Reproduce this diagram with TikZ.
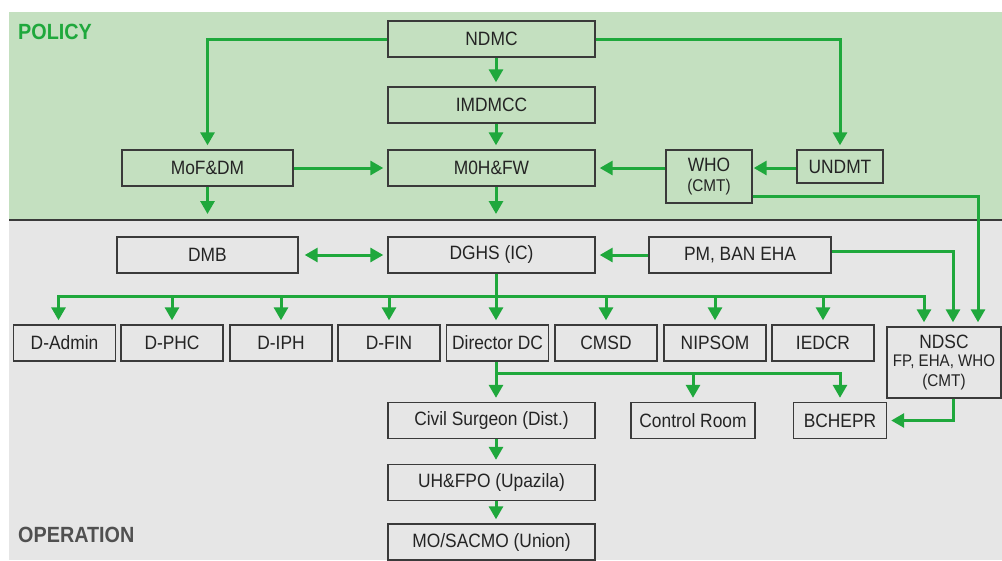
\documentclass[tikz,border=0pt]{standalone}
\usepackage{fontspec}
\setmainfont{Liberation Sans}[FakeStretch=0.9]
\usetikzlibrary{arrows.meta,calc}
\definecolor{polbg}{HTML}{C4E0C0}
\definecolor{opbg}{HTML}{E6E6E6}
\definecolor{arr}{HTML}{1FA83C}
\definecolor{bord}{HTML}{3A3A3A}
\definecolor{txt}{HTML}{242424}
\definecolor{opgray}{HTML}{505050}
\begin{document}
\begin{tikzpicture}[x=1pt,y=-1pt,
  box/.style={draw=bord, line width=1.4pt, inner sep=0pt, text=txt, align=center,
    font=\fontsize{19.3}{20.5}\selectfont},
  rowbox/.style={box, minimum width=102pt, minimum height=36pt},
  arrowline/.style={draw=arr, line width=3pt, -{Triangle[width=14pt,length=13pt]}, shorten >=4pt},
  arrowboth/.style={draw=arr, line width=3pt, {Triangle[width=14pt,length=13pt]}-{Triangle[width=14pt,length=13pt]}, shorten >=4pt, shorten <=4pt},
  section/.style={font=\bfseries\fontsize{22}{24}\selectfont, anchor=west, inner sep=0pt}]
\useasboundingbox (0,0) rectangle (1002,560);
\fill[white] (0,0) rectangle (1002,560);
\fill[polbg] (9,12) rectangle (1002,220);
\fill[opbg] (9,220) rectangle (1002,560);
\draw[bord, line width=2pt] (9,220) -- (1002,220);

\node[section, text=arr] (pol) at (18,32) {POLICY};
\node[section, text=opgray] (op) at (18,535) {OPERATION};

% policy boxes
\node[box, minimum width=207pt, minimum height=36pt] (ndmc) at (491.5,39) {NDMC};
\node[box, minimum width=207pt, minimum height=36pt] (imdmcc) at (491.5,105) {IMDMCC};
\node[box, minimum width=207pt, minimum height=36pt] (moh) at (491.5,168) {M0H\&FW};
\node[box, minimum width=171pt, minimum height=36pt] (mof) at (207.5,168) {MoF\&DM};
\node[box, minimum width=86pt, minimum height=53pt] (who) at (709,176.5) {WHO\\[-1pt]{\fontsize{17}{18}\selectfont (CMT)}};
\node[box, minimum width=86pt, minimum height=33pt] (undmt) at (840,166.5) {UNDMT};

% operation boxes
\node[box, minimum width=181pt, minimum height=36pt] (dmb) at (207.5,255) {DMB};
\node[box, minimum width=207pt, minimum height=36pt] (dghs) at (491.5,255) {DGHS (IC)};
\node[box, minimum width=182pt, minimum height=36pt] (pm) at (740,255) {PM, BAN EHA};

\node[rowbox] (dadmin) at (64.5,343) {D-Admin};
\node[rowbox] (dphc) at (172,343) {D-PHC};
\node[rowbox] (diph) at (281,343) {D-IPH};
\node[rowbox] (dfin) at (389,343) {D-FIN};
\node[rowbox] (dirdc) at (497.5,343) {Director DC};
\node[rowbox] (cmsd) at (606,343) {CMSD};
\node[rowbox] (nipsom) at (715,343) {NIPSOM};
\node[rowbox] (iedcr) at (823,343) {IEDCR};
\node[box, minimum width=114pt, minimum height=71pt] (ndsc) at (944,362.5)
  {NDSC\\[-2pt]{\fontsize{16.8}{18}\selectfont FP, EHA, WHO}\\[-1pt]{\fontsize{17}{18}\selectfont (CMT)}};

\node[box, minimum width=207pt, minimum height=36pt] (civil) at (491.5,420.5) {Civil Surgeon (Dist.)};
\node[box, minimum width=124pt, minimum height=36pt] (control) at (693,420.5) {Control Room};
\node[box, minimum width=93pt, minimum height=36pt] (bchepr) at (840,420.5) {BCHEPR};
\node[box, minimum width=207pt, minimum height=36pt] (uh) at (491.5,482.5) {UH\&FPO (Upazila)};
\node[box, minimum width=207pt, minimum height=36pt] (mo) at (491.5,542) {MO/SACMO (Union)};

% coordinates
\coordinate (mofd) at (207.5,214);
\coordinate (mohd) at (496,214);
\coordinate (bus) at (496,296);
\coordinate (br) at (496,373);

% policy connectors
\draw[arrowline] ([xshift=4.5pt]ndmc.south) -- ([xshift=4.5pt]imdmcc.north);
\draw[arrowline] ([xshift=4.5pt]imdmcc.south) -- ([xshift=4.5pt]moh.north);
\draw[arrowline] (ndmc.west) -| (mof.north);
\draw[arrowline] (ndmc.east) -| (undmt.north);
\draw[arrowline] (mof.east) -- (moh.west);
\draw[arrowline] (who.west |- moh.east) -- (moh.east);
\draw[arrowline, shorten >=1pt] (undmt.west |- moh.east) -- (who.east |- moh.east);
\draw[arrowline, shorten >=0pt] (mof.south) -- (mofd);
\draw[arrowline, shorten >=0pt] ([xshift=4.5pt]moh.south) -- (mohd);
\draw[arrowline] ([yshift=-19.5pt]who.east) -| ([xshift=34pt]ndsc.north);

% operation connectors
\draw[arrowboth, shorten <=6pt] (dmb.east) -- (dghs.west);
\draw[arrowline] (pm.west) -- (dghs.east);
\draw[arrowline] ([yshift=4pt]pm.east) -| ([xshift=9pt]ndsc.north);
\draw[arrowline] ([xshift=4.5pt]dghs.south) -- ([xshift=4.5pt]dghs.south |- dirdc.north);
\draw[arrowboth] ([xshift=-6pt]dadmin.north) |- (bus) -| ([xshift=-20pt]ndsc.north);
\draw[arrowline] (dphc.north |- bus) -- (dphc.north);
\draw[arrowline] (diph.north |- bus) -- (diph.north);
\draw[arrowline] (dfin.north |- bus) -- (dfin.north);
\draw[arrowline] (cmsd.north |- bus) -- (cmsd.north);
\draw[arrowline] (nipsom.north |- bus) -- (nipsom.north);
\draw[arrowline] (iedcr.north |- bus) -- (iedcr.north);

\draw[arrowline] ([xshift=-1.5pt]dirdc.south) -- ([xshift=-1.5pt]dirdc.south |- civil.north);
\draw[arrowline] (br) -| (bchepr.north);
\draw[arrowline] (br -| control.north) -- (control.north);
\draw[arrowline] ([xshift=9pt]ndsc.south) |- (bchepr.east);
\draw[arrowline] ([xshift=4.5pt]civil.south) -- ([xshift=4.5pt]uh.north);
\draw[arrowline] ([xshift=4.5pt]uh.south) -- ([xshift=4.5pt]mo.north);
\end{tikzpicture}
\end{document}
